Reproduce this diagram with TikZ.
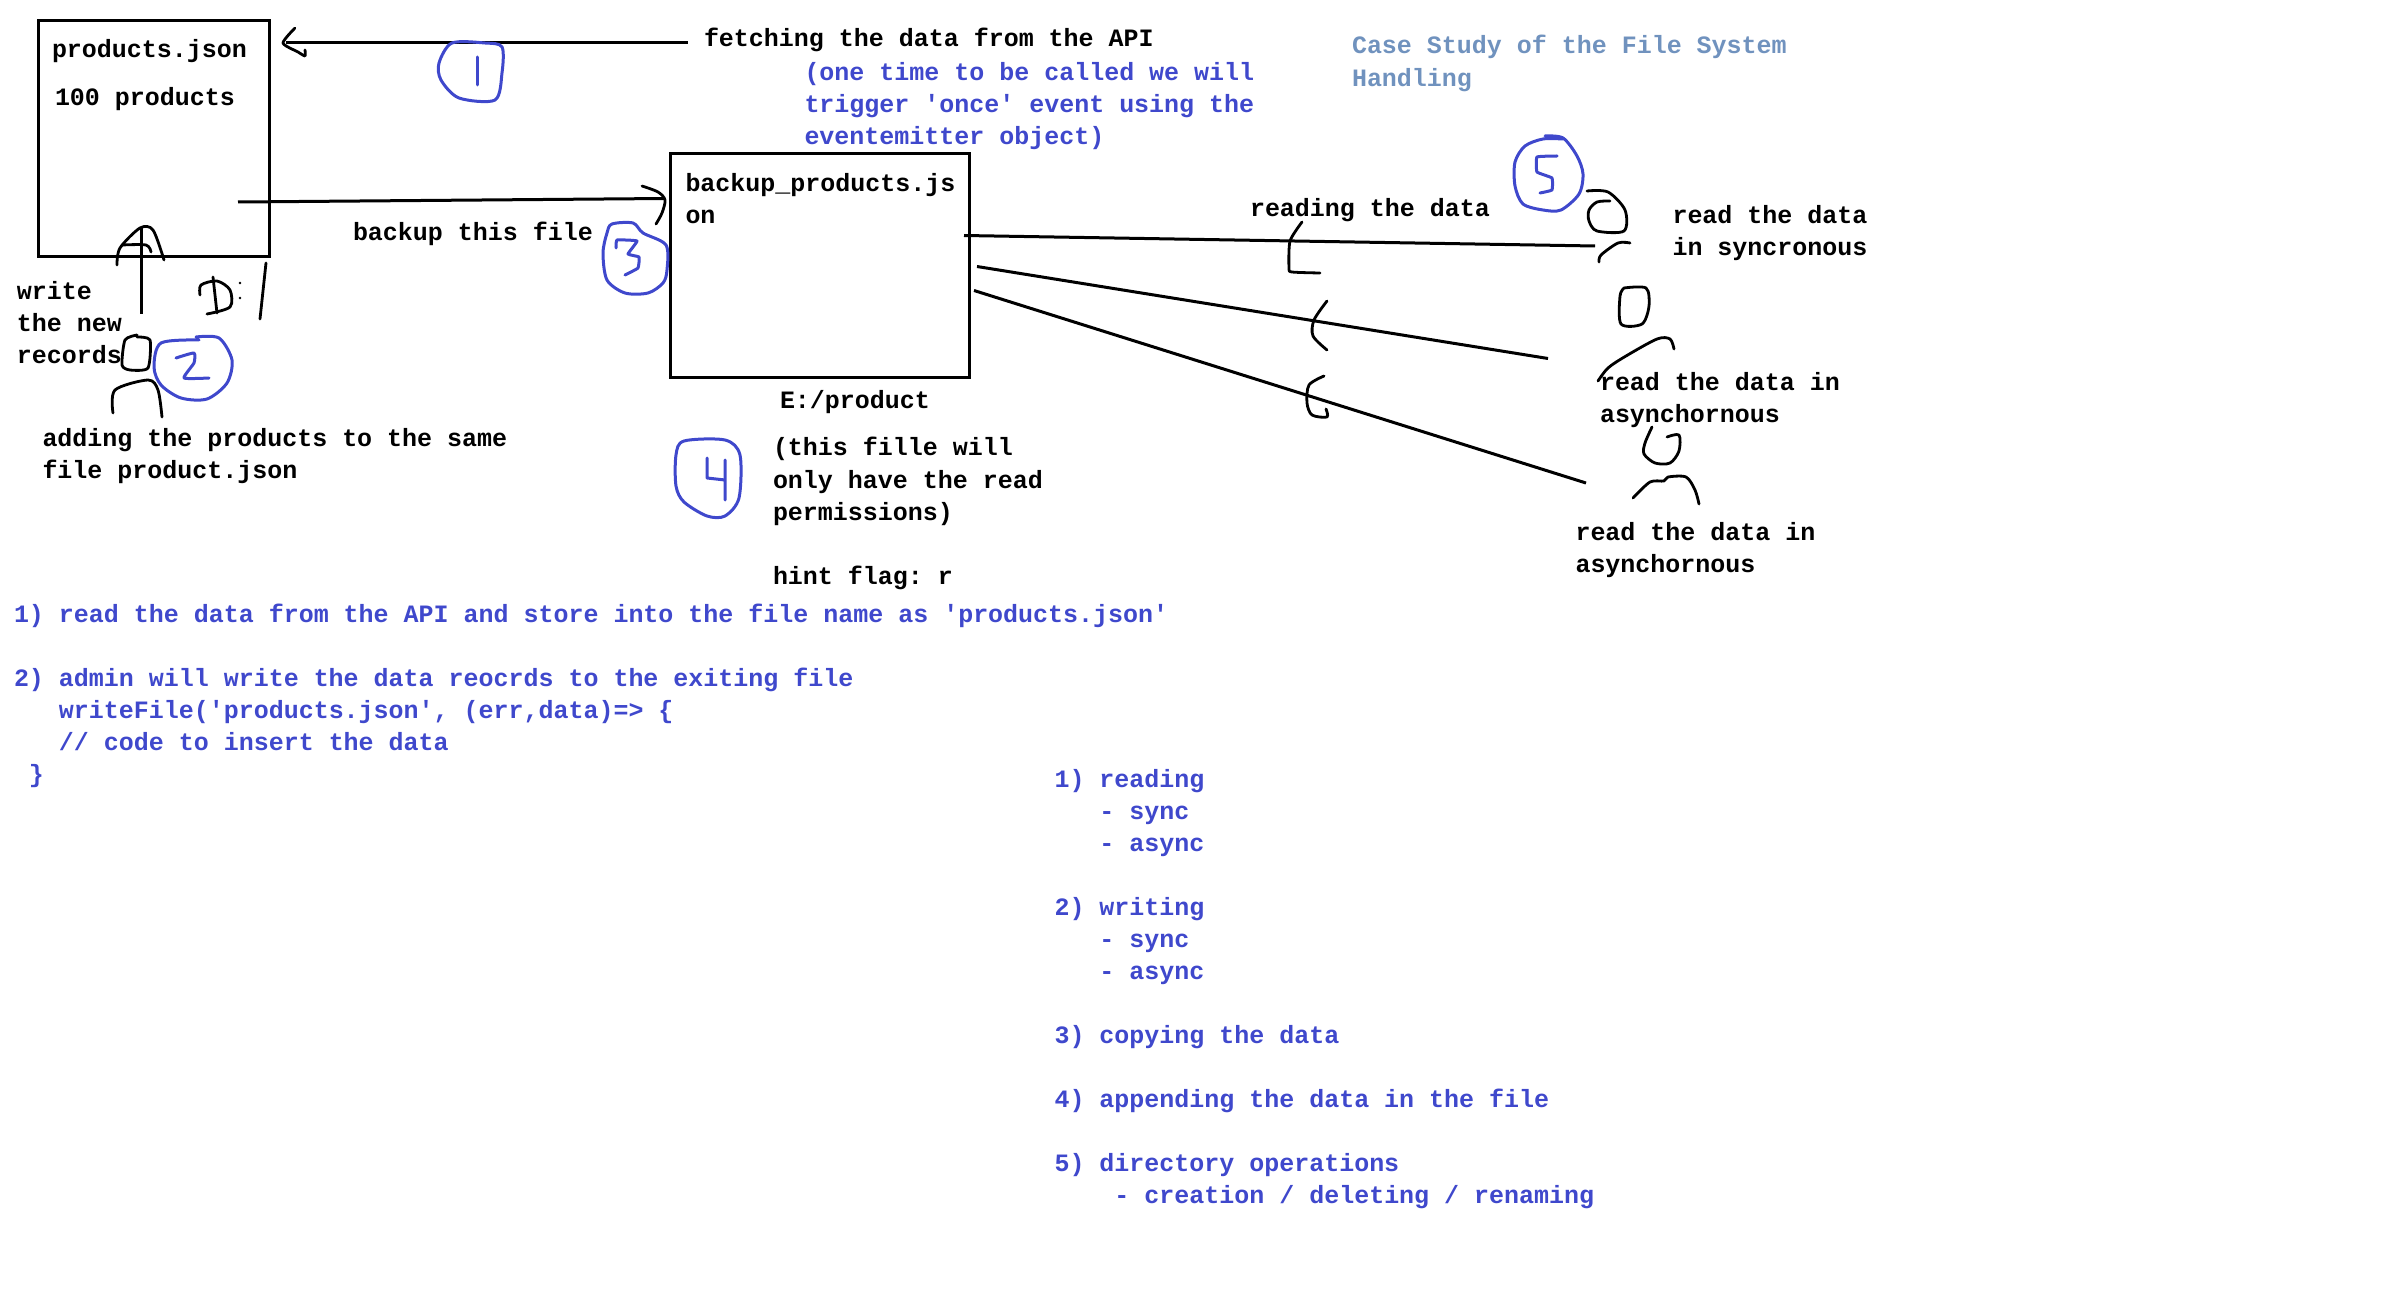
\documentclass[tikz,border=0pt]{standalone}
\usepackage{fontspec}
\newfontfamily\notefont{Liberation Mono}
\definecolor{inkblue}{RGB}{63,72,204}
\definecolor{titleblue}{RGB}{112,146,190}

\begin{document}
\begin{tikzpicture}[x=.5pt, y=-.5pt,
    box/.style={draw, rectangle, line width=1.5pt, anchor=north west, inner sep=0pt, outer sep=0pt},
    txt/.style={anchor=north west, inner sep=0pt, outer sep=0pt, yshift=11.25pt, align=left,
      font=\notefont\bfseries\fontsize{12.49}{16.03}\selectfont\frenchspacing, execute at begin node=\strut},
    bluetxt/.style={txt, text=inkblue},
    wire/.style={line width=1.5pt},
    pen/.style={line width=1.4pt, line cap=round, line join=round},
    bluepen/.style={pen, line width=1.5pt, draw=inkblue}]
  \useasboundingbox (0,0) rectangle (2388,1305);

  \node[box, minimum width=115.5pt, minimum height=118pt] (products) at (38,21) {};
  \node[box, minimum width=149.5pt, minimum height=112pt] (backup) at (670,153.5) {};

  \node[txt] (prodName) at (52,58) {products.json};
  \node[txt] (prodCount) at (55,105.5) {100 products};
  \node[txt] (backupName) at (685.5,195.5) {backup\_products.js\\on};
  \node[txt] (fetch) at (704,46.5) {fetching the data from the API};
  \node[bluetxt] (onceNote) at (804.5,85) {(one time to be called we will\\trigger 'once' event using the\\eventemitter object)};
  \node[txt, text=titleblue] (caseTitle) at (1352,58) {Case Study of the File System\\Handling};
  \node[txt] (backupLbl) at (353,240.5) {backup this file};
  \node[txt] (writeLbl) at (17,304) {write\\the new\\records};
  \node[txt] (addLbl) at (42.5,451) {adding the products to the same\\file product.json};
  \node[txt] (pathLbl) at (780,409) {E:/product};
  \node[txt] (permLbl) at (773,460) {(this fille will\\only have the read\\permissions)\\[\baselineskip]hint flag: r};
  \node[txt] (readingLbl) at (1250,216.5) {reading the data};
  \node[txt] (syncLbl) at (1672.5,228) {read the data\\in syncronous};
  \node[txt] (asyncLblA) at (1600,395) {read the data in\\asynchornous};
  \node[txt] (asyncLblB) at (1575.5,545) {read the data in\\asynchornous};
  \node[bluetxt] (stepsNote) at (14,626.5) {1) read the data from the API and store into the file name as 'products.json'\\[\baselineskip]2) admin will write the data reocrds to the exiting file\\\ \ \ writeFile('products.json', (err,data)=> \{\\\ \ \ // code to insert the data\\\ \}};
  \node[bluetxt] (opsNote) at (1054.5,791.5) {1) reading\\\ \ \ - sync\\\ \ \ - async\\[\baselineskip]2) writing\\\ \ \ - sync\\\ \ \ - async\\[\baselineskip]3) copying the data\\[\baselineskip]4) appending the data in the file\\[\baselineskip]5) directory operations\\\ \ \ \ - creation / deleting / renaming};

  \coordinate (readerA) at (1595,246);
  \coordinate (readerB) at (1548,358.5);
  \coordinate (readerC) at (1586,483);
  \coordinate (writeFoot) at (141,314);

  \draw[wire, shorten <=8.2pt, shorten >=8.5pt] ([yshift=-1pt]fetch.west) -- ([yshift=-1pt]products.east |- fetch.west);
  \draw[wire] ([xshift=-15.5pt,yshift=-31.5pt]products.east) -- ([xshift=-2.5pt,yshift=33.5pt]backup.west);
  \draw[wire] (writeFoot) -- ([xshift=-6.25pt,yshift=14.5pt]products.south);
  \draw[wire] ([xshift=-2.5pt,yshift=15pt]backup.east) -- (readerA);
  \draw[wire] ([xshift=4pt,yshift=-.5pt]backup.east) -- (readerB);
  \draw[wire] ([xshift=2.5pt,yshift=-12.5pt]backup.east) -- (readerC);

  % arrow heads
  \draw[pen] plot[smooth,tension=.4] coordinates {(295,28) (283,43) (298,52) (305,56) (305,50)};
  \draw[pen] plot[smooth,tension=.5] coordinates {(642,186) (658,192) (665,200) (662,213) (656,224)};
  \draw[pen] plot[smooth,tension=.5] coordinates {(117,265) (120,248) (140,228) (153,230) (164,260)};
  \draw[pen] plot[smooth,tension=.5] coordinates {(122,245) (146,245) (151,252)};
  \draw[pen] plot[smooth,tension=.4] coordinates {(1302,222) (1290,241) (1289,268) (1292,272) (1320,273)};
  \draw[pen] plot[smooth,tension=.5] coordinates {(1327,301) (1314,320) (1313,336) (1327,350)};
  \draw[pen] plot[smooth,tension=.5] coordinates {(1324,376) (1309,385) (1307,403) (1312,415) (1327,417) (1326,409)};

  % D:/ and stick people
  \draw[pen] (213,277) -- (217,313);
  \draw[pen] plot[smooth,tension=.5] coordinates {(200,295) (201,285) (217,281) (230,290) (230,307) (207,314)};
  \fill (240,283) circle (.7pt) (240,298) circle (.7pt);
  \draw[pen] (266,263) -- (260,319);
  \draw[pen] plot[smooth,tension=.4] coordinates {(137,335) (125,340) (122,365) (130,370) (148,368) (150,340) (137,337)};
  \draw[pen] plot[smooth,tension=.5] coordinates {(113,413) (115,390) (148,380) (158,390) (162,417)};
  \draw[pen] plot[smooth,tension=.5] coordinates {(1587,191) (1608,192) (1625,210) (1624,231) (1597,231) (1589,221) (1589,210) (1597,202) (1610,201)};
  \draw[pen] plot[smooth,tension=.5] coordinates {(1599,262) (1601,255) (1618,243) (1630,243)};
  \draw[pen] plot[smooth,tension=.5] coordinates {(1624,288) (1646,288) (1649,306) (1642,324) (1621,324) (1620,296) (1624,288)};
  \draw[pen] plot[smooth,tension=.5] coordinates {(1598,381) (1608,368) (1626,356) (1657,339) (1670,339) (1674,349)};
  \draw[pen] plot[smooth,tension=.5] coordinates {(1652,427) (1645,443) (1644,454) (1655,463) (1670,463) (1679,451) (1679,435) (1667,437)};
  \draw[pen] plot[smooth,tension=.5] coordinates {(1633,498) (1650,482) (1664,481) (1668,477) (1686,477) (1695,490) (1699,504)};

  % numbered circles
  \draw[bluepen] plot[smooth cycle,tension=.5] coordinates {(452,43) (439,63) (441,80) (459,98) (495,100) (502,73) (502,47) (485,43)};
  \draw[bluepen] (477,57) -- (477,85);
  \draw[bluepen] plot[smooth,tension=.5] coordinates {(196,337) (219,338) (232,360) (227,383) (207,399) (181,398) (161,385) (154,367) (161,343) (199,340)};
  \draw[bluepen] plot[smooth,tension=.3] coordinates {(176,358) (194,353) (194,363) (184,378) (209,378)};
  \draw[bluepen] plot[smooth cycle,tension=.5] coordinates {(612,224) (633,223) (643,233) (666,245) (667,270) (663,283) (648,293) (625,293) (607,280) (603,253) (607,233)};
  \draw[bluepen] plot[smooth,tension=.2] coordinates {(616,248) (617,240) (637,241) (628,254) (639,257) (638,268) (625,275)};
  \draw[bluepen] plot[smooth cycle,tension=.5] coordinates {(684,441) (725,440) (740,455) (739,498) (725,516) (707,516) (684,502) (676,486) (676,455)};
  \draw[bluepen] (707,458) -- (707,478) -- (725,480) (725,460) -- (725,500);
  \draw[bluepen] plot[smooth,tension=.5] coordinates {(1545,136) (1563,138) (1577,156) (1583,174) (1579,194) (1561,210) (1543,210) (1523,204) (1515,186) (1515,162) (1525,146) (1543,139) (1563,139)};
  \draw[bluepen] plot[smooth,tension=.2] coordinates {(1557,156) (1537,157) (1537,172) (1552,178) (1552,190) (1540,193)};
\end{tikzpicture}
\end{document}
